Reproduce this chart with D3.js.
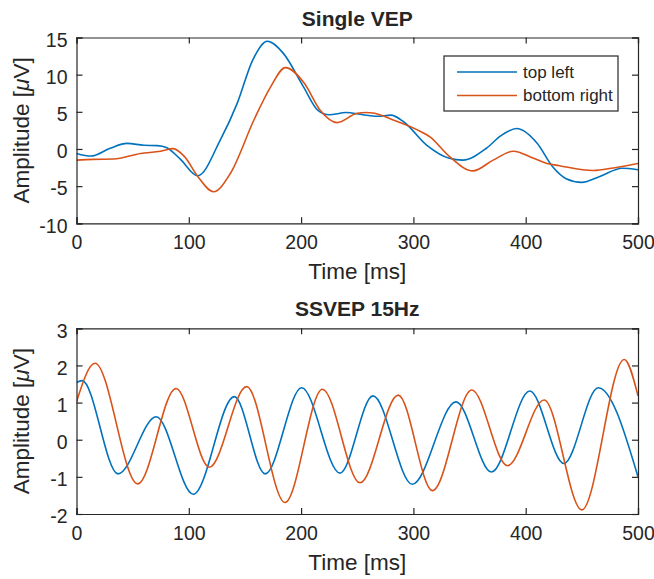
<!DOCTYPE html>
<html>
<head>
<meta charset="utf-8">
<script src="https://cdn.jsdelivr.net/npm/d3@7"></script>
<style>
  html, body { margin: 0; padding: 0; background: #fff; }
  svg { display: block; }
  text { font-family: "Liberation Sans", Arial, Helvetica, sans-serif; fill: #262626; }
</style>
</head>
<body>
<svg id="chart" width="654" height="579"></svg>
<script>
// ---------- DATA ----------
const seriesNames = ["top left", "bottom right"];
const seriesColors = ["#0072BD", "#D95319"];

const xTicks = [0, 100, 200, 300, 400, 500];
const vepYTicks = [-10, -5, 0, 5, 10, 15];
const ssvepYTicks = [-2, -1, 0, 1, 2, 3];

// Single VEP (time ms, amplitude µV)
const vepTopLeft = [
  [0,-0.6],[13,-0.95],[30,0.1],[45,0.75],[60,0.5],[72,0.45],[80,0.2],[92,-1.3],
  [108,-3.6],[128,1.2],[143,6.1],[157,12],[170,14.5],[184,12.9],[202,8.4],
  [215,5.2],[225,4.6],[240,4.9],[255,4.6],[268,4.4],[280,4.55],[291,3.7],
  [312,0.5],[332,-1.25],[344,-1.5],[365,0.1],[378,1.8],[392,2.75],[410,0.8],
  [424,-2.4],[436,-4.0],[450,-4.5],[466,-3.7],[486,-2.6],[500,-2.8]
];
const vepBottomRight = [
  [0,-1.5],[15,-1.4],[33,-1.35],[57,-0.6],[75,-0.3],[86,0.05],[96,-1.0],
  [108,-3.7],[122,-5.75],[137,-3.3],[158,3.9],[173,8.4],[186,10.95],[203,8.8],
  [217,5.2],[232,3.55],[250,4.8],[258,4.9],[264,4.85],[282,3.9],[303,2.6],
  [315,1.6],[332,-1.0],[353,-2.95],[371,-1.5],[389,-0.3],[407,-1.25],
  [419,-1.95],[430,-2.25],[460,-2.9],[478,-2.55],[500,-1.95]
];

// SSVEP 15Hz
const ssvepTopLeft = [
  [0,1.54],[5,1.59],[37,-0.92],[71,0.62],[104,-1.47],[140.5,1.16],[168,-0.92],
  [200.5,1.4],[234.6,-0.9],[264,1.18],[299,-1.2],[338,1.02],[369.5,-0.87],
  [403.7,1.31],[434,-0.64],[464.6,1.4],[500,-1.0]
];
const ssvepBottomRight = [
  [0,1.02],[16.5,2.06],[54.5,-1.19],[88.6,1.38],[118.3,-0.74],[151.5,1.43],
  [185.7,-1.69],[219,1.36],[252.5,-1.16],[286.5,1.2],[317,-1.37],[352,1.34],
  [383.8,-0.7],[416.4,1.07],[450,-1.89],[487.7,2.16],[500,1.18]
];

// ---------- DRAW ----------
const svg = d3.select("#chart");
const axisColor = "#262626";

function panel(opts) {
  const { top, bottom, left, right, yDomain, yTicks, title, series, legend } = opts;
  const x = d3.scaleLinear().domain([0, 500]).range([left, right]);
  const y = d3.scaleLinear().domain(yDomain).range([bottom, top]);
  const g = svg.append("g");

  const clipId = "clip" + Math.round(top);
  svg.append("clipPath").attr("id", clipId)
    .append("rect").attr("x", left).attr("y", top).attr("width", right - left).attr("height", bottom - top);
  const line = d3.line().x(d => x(d[0])).y(d => y(d[1])).curve(d3.curveMonotoneX);
  series.forEach((s, i) => {
    g.append("path").attr("d", line(s)).attr("fill", "none")
      .attr("stroke", seriesColors[i]).attr("stroke-width", 1.6)
      .attr("clip-path", `url(#${clipId})`);
  });

  const tl = 6;
  const axB = d3.axisBottom(x).tickValues(xTicks).tickSize(-tl).tickPadding(12).tickFormat(d3.format("d"));
  const axT = d3.axisTop(x).tickValues(xTicks).tickSize(-tl).tickFormat("");
  const axL = d3.axisLeft(y).tickValues(yTicks).tickSize(-tl).tickPadding(9).tickFormat(d3.format("d"));
  const axR = d3.axisRight(y).tickValues(yTicks).tickSize(-tl).tickFormat("");

  const gb = g.append("g").attr("transform", `translate(0,${bottom})`).call(axB);
  const gt = g.append("g").attr("transform", `translate(0,${top})`).call(axT);
  const gl = g.append("g").attr("transform", `translate(${left},0)`).call(axL);
  const gr = g.append("g").attr("transform", `translate(${right},0)`).call(axR);
  [gb, gt, gl, gr].forEach(a => {
    a.select(".domain").attr("stroke", axisColor).attr("stroke-width", 1.2);
    a.selectAll(".tick line").attr("stroke", axisColor).attr("stroke-width", 1.2);
    a.selectAll(".tick text").attr("fill", axisColor).style("font-size", "19.5px")
      .style("font-family", '"Liberation Sans", Arial, sans-serif');
  });
  gl.selectAll(".tick text").attr("dy", "0.45em");
  gl.selectAll(".tick text").text(d => d < 0 ? "-" + Math.abs(d) : d);

  g.append("text").attr("x", (left + right) / 2).attr("y", top - 12)
    .attr("text-anchor", "middle").style("font-size", "21px").style("font-weight", "bold")
    .text(title);
  g.append("text").attr("x", (left + right) / 2).attr("y", bottom + 56)
    .attr("text-anchor", "middle").style("font-size", "22.5px").text("Time [ms]");
  const yl = g.append("text")
    .attr("transform", `translate(${left - 48},${(top + bottom) / 2}) rotate(-90)`)
    .attr("text-anchor", "middle").style("font-size", "22.5px");
  yl.append("tspan").text("Amplitude [");
  yl.append("tspan").style("font-style", "italic").text("\u03BC");
  yl.append("tspan").text("V]");

  if (legend) {
    const lg = g.append("g");
    lg.append("rect").attr("x", legend.x0).attr("y", legend.y0)
      .attr("width", legend.w).attr("height", legend.h)
      .attr("fill", "#fff").attr("stroke", axisColor).attr("stroke-width", 1.2);
    seriesNames.forEach((n, i) => {
      const yy = legend.y0 + 16 + i * 23.5;
      lg.append("line").attr("x1", legend.x0 + 13).attr("x2", legend.x0 + 73)
        .attr("y1", yy).attr("y2", yy).attr("stroke", seriesColors[i]).attr("stroke-width", 1.6);
      lg.append("text").attr("x", legend.x0 + 79).attr("y", yy).attr("dy", "0.35em")
        .style("font-size", "17px").text(n);
    });
  }
}

panel({
  top: 37.5, bottom: 223.3, left: 76.5, right: 638,
  yDomain: [-10, 15], yTicks: vepYTicks, title: "Single VEP",
  series: [vepTopLeft, vepBottomRight],
  legend: { x0: 444, y0: 56, w: 174, h: 55 }
});
panel({
  top: 328.3, bottom: 514, left: 76.5, right: 638,
  yDomain: [-2, 3], yTicks: ssvepYTicks, title: "SSVEP 15Hz",
  series: [ssvepTopLeft, ssvepBottomRight]
});
</script>
</body>
</html>
